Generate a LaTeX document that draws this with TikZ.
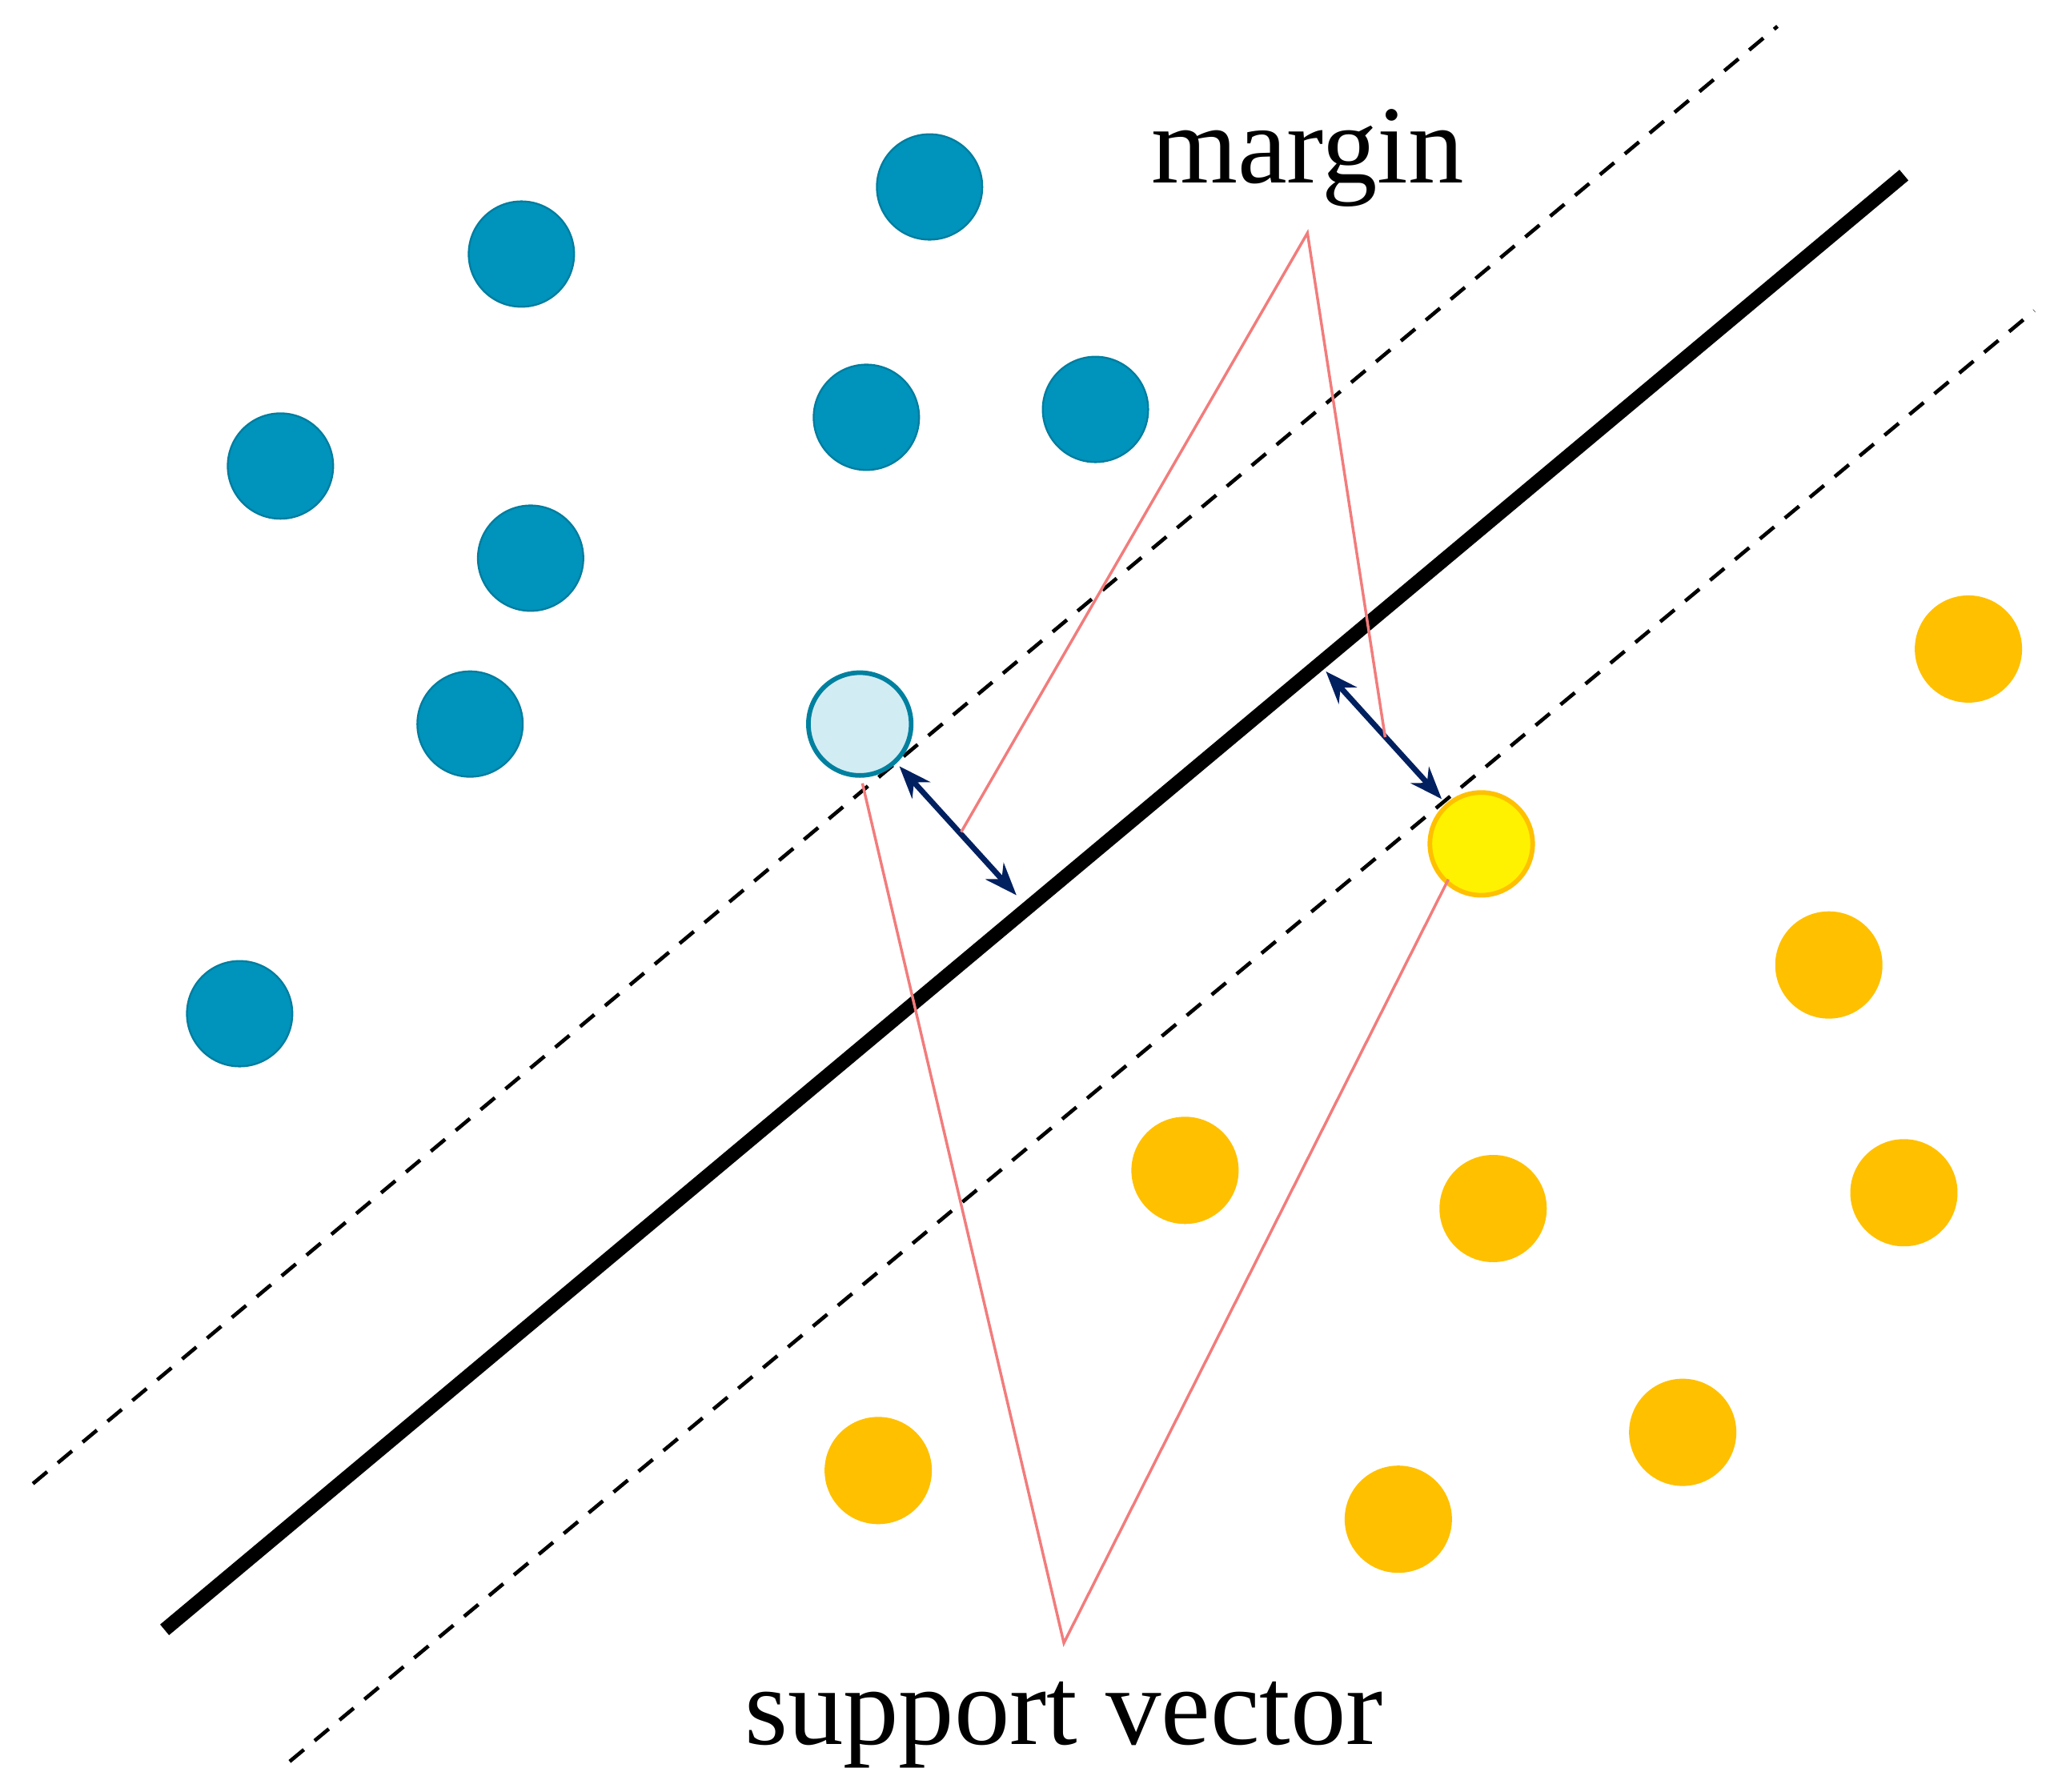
\documentclass[tikz,border=0pt]{standalone}
\usepackage{fontspec}
\setmainfont{Liberation Serif}
\usetikzlibrary{arrows.meta}
\definecolor{dotblue}{HTML}{0093BB}
\definecolor{dotyellow}{HTML}{FFC000}
\definecolor{svblue}{HTML}{D2ECF4}
\definecolor{svborder}{HTML}{00809F}
\definecolor{navy}{HTML}{002060}
\definecolor{pointer}{HTML}{F27C7C}
\tikzset{
  blue dot/.style = {circle, fill=dotblue, draw=dotblue!85!black, minimum size=0.8cm, inner sep=0pt},
  yellow dot/.style = {circle, fill=dotyellow, draw=dotyellow, minimum size=0.8cm, inner sep=0pt},
  margin line/.style = {dashed, line width=0.8pt, dash pattern=on 4pt off 3pt},
  gap/.style = {navy, line width=1.2pt, {Stealth[length=7pt]}-{Stealth[length=7pt]}},
  label line/.style = {pointer, line width=0.6pt}
}
\begin{document}
\begin{tikzpicture}[x=0.01cm, y=-0.01cm]
            \useasboundingbox (0,0) rectangle (1560,1361);
            \node [blue dot] (b1) at (396,193) {};
            \node [blue dot] (b2) at (706,142) {};
            \node [blue dot] (b3) at (213,354) {};
            \node [blue dot] (b4) at (658,317) {};
            \node [blue dot] (b5) at (832,311) {};
            \node [blue dot] (b6) at (403,424) {};
            \node [blue dot] (b7) at (357,550) {};
            \node [blue dot] (b8) at (182,770) {};
            \node [yellow dot] (y1) at (1495,493) {};
            \node [yellow dot] (y2) at (1389,733) {};
            \node [yellow dot] (y3) at (900,889) {};
            \node [yellow dot] (y4) at (1134,918) {};
            \node [yellow dot] (y5) at (1446,906) {};
            \node [yellow dot] (y6) at (667,1117) {};
            \node [yellow dot] (y7) at (1062,1154) {};
            \node [yellow dot] (y8) at (1278,1088) {};
            \draw [margin line] (25,1127) -- (1350,20);
            \draw [margin line] (220,1338) -- (1545,236);
            \draw [line width=3pt] (125,1238) -- (1446,133);
            \node [circle, fill=svblue, draw=svborder, line width=1pt, minimum size=0.78cm, inner sep=0pt] (sb) at (653,550) {};
            \node [circle, fill=yellow, draw=dotyellow, line width=1pt, minimum size=0.78cm, inner sep=0pt] (sy) at (1125,641) {};
            \coordinate (g1) at (683,582);
            \coordinate (g2) at (772,680);
            \coordinate (g3) at (1007,510);
            \coordinate (g4) at (1095,607);
            \draw [gap] (g1) -- (g2);
            \draw [gap] (g3) -- (g4);
            \node [font=\fontsize{24}{28}\selectfont] (mtext) at (993,120) {margin};
            \node [font=\fontsize{24}{28}\selectfont] (stext) at (808,1310) {support vector};
            \coordinate (mtip) at (993,177);
            \coordinate (stip) at (808,1248);
            \draw [label line] (730,632) -- (mtip) -- (1052,560);
            \draw [label line] (655,595) -- (stip) -- (1100,668);
        \end{tikzpicture}
\end{document}
